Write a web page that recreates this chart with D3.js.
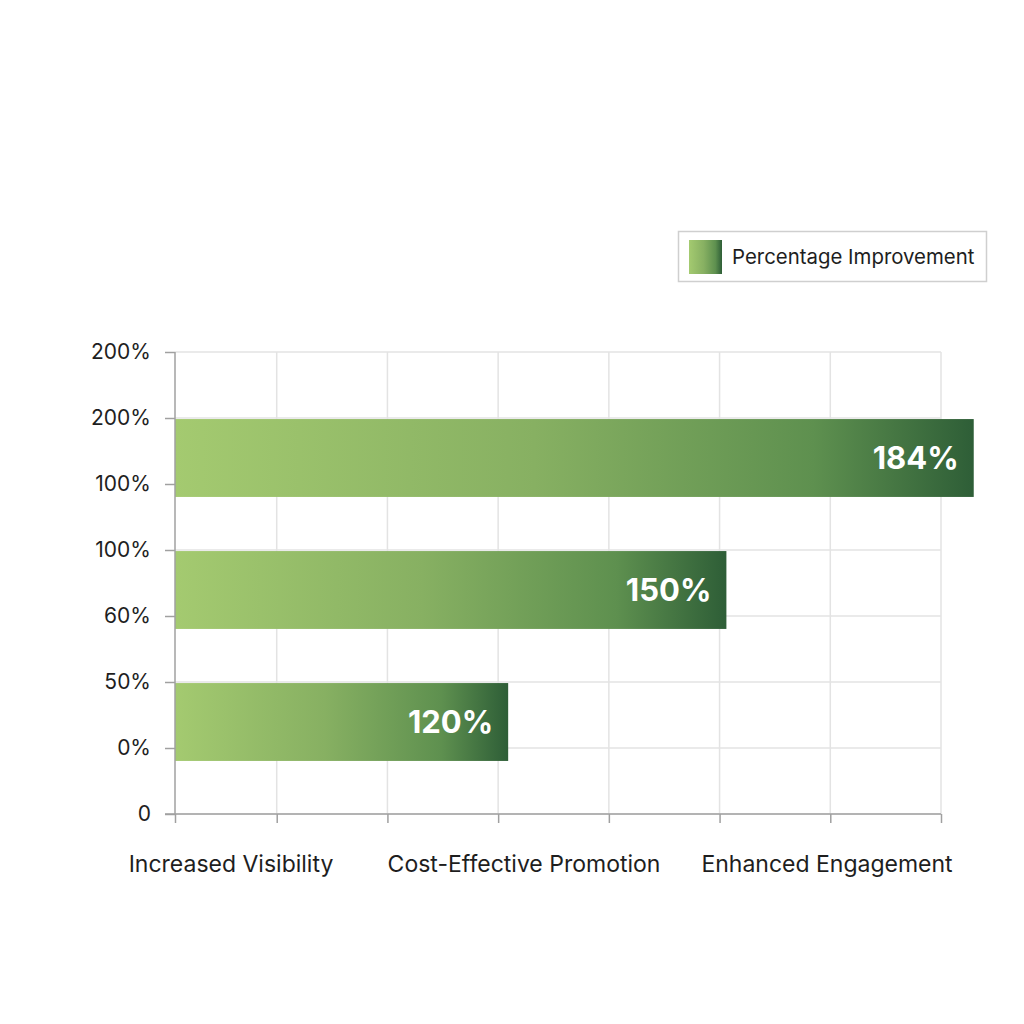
<!DOCTYPE html>
<html><head><meta charset="utf-8">
<script src="https://cdn.jsdelivr.net/npm/d3@7"></script>
<style>body{margin:0;background:#fff}svg{display:block}text{font-family:Inter,"Open Sans",sans-serif}</style>
</head><body><svg id="c" width="1024" height="1024"></svg>
<script>
const categories = ["Increased Visibility","Cost-Effective Promotion","Enhanced Engagement"];
const values = [120, 150, 184];
const barOrder = ["Enhanced Engagement","Cost-Effective Promotion","Increased Visibility"];
const yTickLabels = ["0","0%","50%","60%","100%","100%","200%","200%"];
const seriesName = "Percentage Improvement";

(function(){
const svg = d3.select("#c");
const pL = 175, pR = 941, pT = 352, pB = 814;

const defs = svg.append("defs");
const grad = defs.append("linearGradient").attr("id","g").attr("x1","0").attr("x2","1").attr("y1","0").attr("y2","0");
grad.append("stop").attr("offset","0%").attr("stop-color","#a4ca70");
grad.append("stop").attr("offset","45%").attr("stop-color","#87b062");
grad.append("stop").attr("offset","80%").attr("stop-color","#5e904f");
grad.append("stop").attr("offset","100%").attr("stop-color","#2e5e37");

const x = d3.scaleLinear().domain([74.2, 179.5]).range([pL, pR]);
const yBand = d3.scaleBand().domain(barOrder).range([392, 788]).paddingInner(0.41).paddingOuter(0.205);
const yTick = d3.scaleLinear().domain([0, yTickLabels.length - 1]).range([pB, pT]);
const xGrid = d3.scaleLinear().domain([0, 7]).range([166, pR]);
const xTicks = [xGrid.invert(pL)].concat(d3.range(1,8));
const xCat = d3.scalePoint().domain(categories).range([231, 827]);
const catShift = [0, -5, 0];

svg.append("g").selectAll("line").data(d3.range(yTickLabels.length)).join("line")
  .attr("x1", pL).attr("x2", pR).attr("y1", d=>yTick(d)).attr("y2", d=>yTick(d))
  .attr("stroke","#e3e3e3").attr("stroke-width",1.5);
svg.append("g").selectAll("line").data(d3.range(1,8)).join("line")
  .attr("x1", d=>xGrid(d)).attr("x2", d=>xGrid(d)).attr("y1", pT).attr("y2", pB)
  .attr("stroke","#e3e3e3").attr("stroke-width",1.5);

const vals = new Map(categories.map((c,i)=>[c, values[i]]));
svg.append("g").selectAll("rect").data(barOrder).join("rect")
  .attr("x", pL).attr("y", d=>yBand(d))
  .attr("width", d=>x(vals.get(d)) - pL).attr("height", yBand.bandwidth())
  .attr("fill","url(#g)");
svg.append("g").selectAll("text").data(barOrder).join("text")
  .attr("x", d=>x(vals.get(d)) - 15).attr("y", d=>yBand(d) + yBand.bandwidth()/2)
  .attr("dy","0.36em").attr("text-anchor","end").attr("fill","#fff")
  .attr("font-size",31).attr("font-weight",700).text(d=>vals.get(d)+"%");

const yAxis = d3.axisLeft(yTick).tickValues(d3.range(yTickLabels.length))
  .tickFormat(i=>yTickLabels[i]).tickSize(10).tickPadding(14);
const ga = svg.append("g").attr("transform",`translate(${pL},0)`).call(yAxis);
ga.select(".domain").attr("stroke","#a0a0a0").attr("stroke-width",1.5).attr("d",`M0,${pT}V${pB}`);
ga.selectAll(".tick line").attr("stroke","#a0a0a0").attr("stroke-width",1.5);
ga.selectAll(".tick text").attr("font-size",21).attr("fill","#1e1e1e").attr("font-family","Inter,sans-serif");

const xAxis = d3.axisBottom(xGrid).tickValues(xTicks).tickFormat("").tickSize(9);
const gx = svg.append("g").attr("transform",`translate(0,${pB})`).call(xAxis);
gx.select(".domain").attr("stroke","#a0a0a0").attr("stroke-width",1.5).attr("d",`M${pL-10},0H${pR}`);
gx.selectAll(".tick line").attr("stroke","#a0a0a0").attr("stroke-width",1.5);

svg.append("g").selectAll("text").data(categories).join("text")
  .attr("x", (d,i)=>xCat(d) + catShift[i]).attr("y", 864).attr("dy","0.36em").attr("text-anchor","middle")
  .attr("font-size",23).attr("fill","#1e1e1e").text(d=>d);

const lg = svg.append("g");
lg.append("rect").attr("x",678.5).attr("y",231.5).attr("width",308).attr("height",50)
  .attr("fill","#fff").attr("stroke","#cfcfcf").attr("stroke-width",1.5);
lg.append("rect").attr("x",689).attr("y",240).attr("width",33).attr("height",34).attr("fill","url(#g)");
lg.append("text").attr("x",732).attr("y",257).attr("dy","0.36em").attr("font-size",20.4).attr("fill","#1e1e1e").text(seriesName);
})();
</script></body></html>
